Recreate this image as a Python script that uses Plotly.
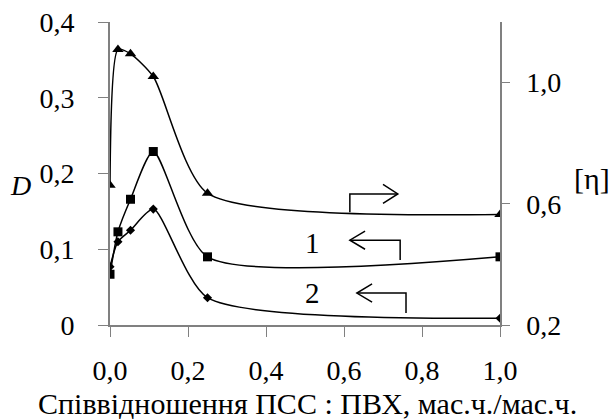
import plotly.graph_objects as go

# Data (PSS : PVC mass ratio)
x_ratio = [0.0, 0.0204, 0.0526, 0.111, 0.25, 1.0]
eta_values = [0.661, 1.109, 1.095, 1.02, 0.635, 0.565]      # [η], right axis
d_curve1 = [0.067, 0.123, 0.166, 0.229, 0.090, 0.090]       # curve 1, D
d_curve2 = [0.077, 0.110, 0.125, 0.153, 0.036, 0.009]       # curve 2, D

x_ticks = [0.0, 0.2, 0.4, 0.6, 0.8, 1.0]
left_ticks = [0, 0.1, 0.2, 0.3, 0.4]
right_ticks = [0.2, 0.6, 1.0]

FONT = "Liberation Serif"
AX = "#808080"
SMOOTH = 0.65
TICKFONT = dict(family=FONT, size=28, color="black")

fig = go.Figure()
fig.add_trace(go.Scatter(x=x_ratio, y=eta_values, yaxis="y2", mode="lines+markers",
                         line=dict(color="black", width=1.5, shape="spline", smoothing=SMOOTH),
                         marker=dict(symbol="triangle-up", size=10, color="black")))
fig.add_trace(go.Scatter(x=x_ratio, y=d_curve1, mode="lines+markers",
                         line=dict(color="black", width=1.5, shape="spline", smoothing=SMOOTH),
                         marker=dict(symbol="square", size=9, color="black")))
fig.add_trace(go.Scatter(x=x_ratio, y=d_curve2, mode="lines+markers",
                         line=dict(color="black", width=1.5, shape="spline", smoothing=SMOOTH),
                         marker=dict(symbol="diamond", size=7, color="black")))

# arrow indicators (vertical + horizontal lines, open chevron heads)
def arrow(xv, y0, y1, xend, wing_x, dy):
    fig.add_shape(type="path", xref="x", yref="y",
                  path=f"M{xv},{y0} L{xv},{y1} L{xend},{y1}",
                  line=dict(color="black", width=1.5))
    fig.add_shape(type="path", xref="x", yref="y",
                  path=f"M{wing_x},{y1+dy} L{xend},{y1} L{wing_x},{y1-dy}",
                  line=dict(color="black", width=1.5))

arrow(0.615, 0.149, 0.173, 0.738, 0.700, 0.0125)
arrow(0.744, 0.0858, 0.112, 0.615, 0.654, 0.012)
arrow(0.759, 0.0158, 0.0422, 0.633, 0.672, 0.012)

for txt, xx, yy in [("1", 0.518, 0.108), ("2", 0.518, 0.042)]:
    fig.add_annotation(x=xx, y=yy, xref="x", yref="y", text=txt, showarrow=False,
                       font=dict(family=FONT, size=29, color="black"))

# pixel-anchored labels -> paper coords
L, R, T, B = 110, 111, 22, 94
W, H = 611, 419
pw, ph = W - L - R, H - T - B

def px_annot(text, px, py, size):
    fig.add_annotation(x=(px - L) / pw, y=(H - B - py) / ph, xref="paper", yref="paper",
                       text=text, showarrow=False, xanchor="center", yanchor="middle",
                       font=dict(family=FONT, size=size, color="black"))

px_annot("<i>D</i>", 20, 185, 28)
px_annot("[η]", 592, 178, 30)
px_annot("Співвідношення ПСС : ПВХ, мас.ч./мас.ч.", 307, 403, 30)

fig.update_layout(
    template="none",
    width=W, height=H, margin=dict(l=L, r=R, t=T, b=B, autoexpand=False),
    paper_bgcolor="white", plot_bgcolor="white", showlegend=False,
    separators=", ",
    font=dict(family=FONT, size=28, color="black"),
    xaxis=dict(range=[0, 1], tickvals=x_ticks, tickformat=".1f", showgrid=False, zeroline=False,
               showline=True, linecolor=AX, linewidth=1.5, ticks="outside", ticklen=10,
               tickcolor=AX, tickwidth=1.2, ticklabelstandoff=10, automargin=False,
               tickfont=TICKFONT),
    yaxis=dict(range=[0, 0.4], tickvals=left_ticks, showgrid=False, zeroline=False,
               showline=True, linecolor=AX, linewidth=2, ticks="outside", ticklen=10,
               tickcolor=AX, tickwidth=1.2, ticklabelstandoff=18, automargin=False,
               tickfont=TICKFONT),
    yaxis2=dict(range=[0.2, 1.2], tickvals=right_ticks, tickformat=".1f", overlaying="y",
                side="right", showgrid=False, zeroline=False, showline=True, linecolor=AX,
                linewidth=1.5, ticks="outside", ticklen=8, tickcolor=AX, tickwidth=1.2,
                ticklabelstandoff=11, automargin=False, tickfont=TICKFONT),
)

fig.write_html("out.html", config={"displayModeBar": False},
               post_script="document.body.style.margin='0';document.body.style.padding='0';")
